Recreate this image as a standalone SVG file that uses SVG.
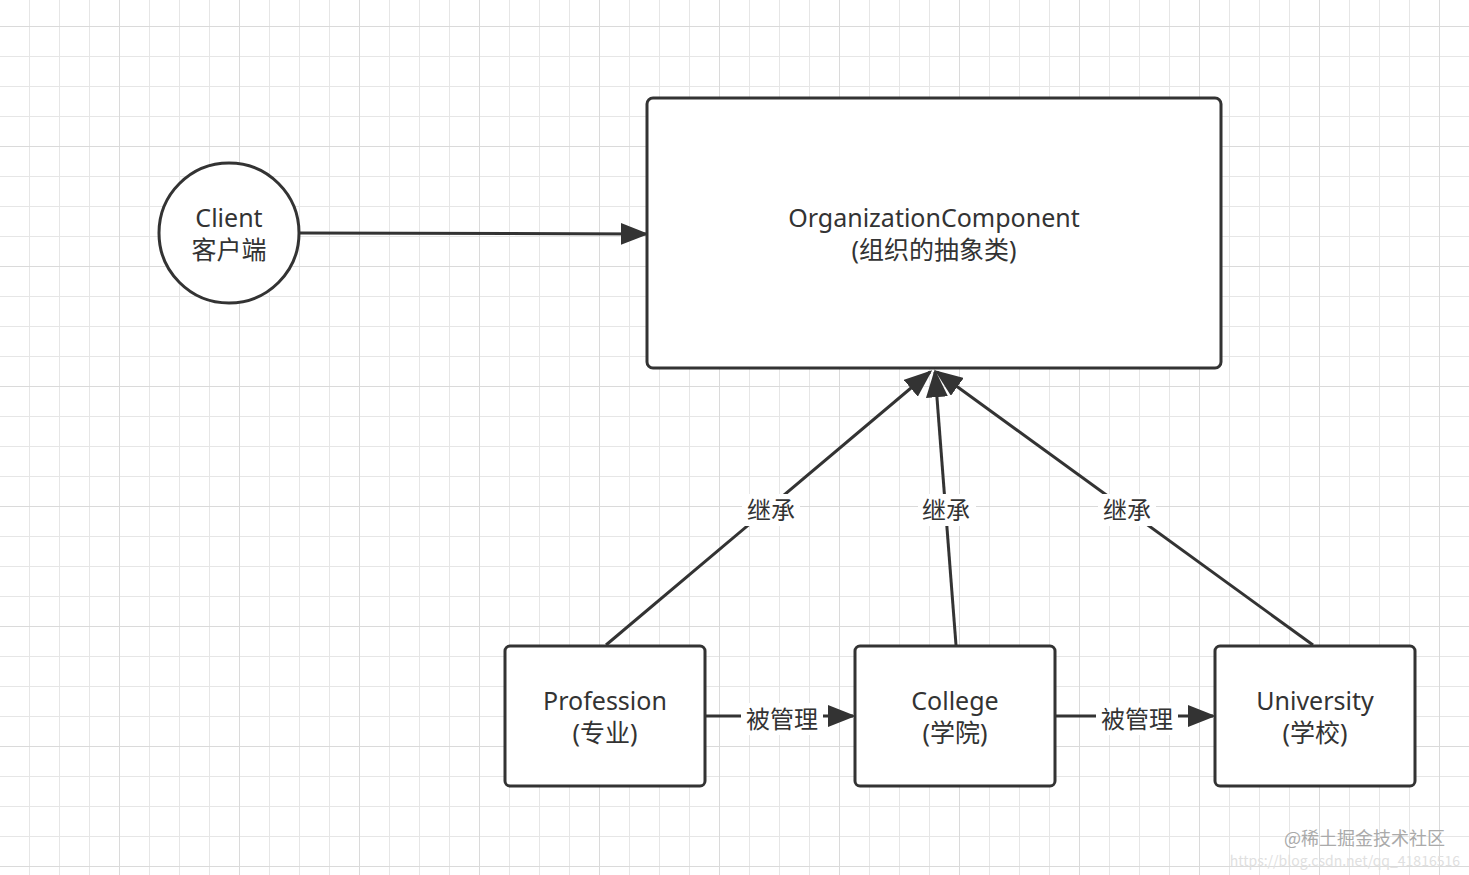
<svg xmlns="http://www.w3.org/2000/svg" width="1469" height="875" viewBox="0 0 1469 875">
<defs>
<pattern id="g" x="0" y="27" width="30" height="30" patternUnits="userSpaceOnUse"><path d="M30 0V30M0 30H30" fill="none" stroke="#e6e6e6" stroke-width="2"/></pattern>
<pattern id="G" x="0" y="27" width="120" height="120" patternUnits="userSpaceOnUse"><path d="M120 0V120M0 120H120" fill="none" stroke="#dadada" stroke-width="2"/></pattern>
<marker id="b" viewBox="0 0 10 10" refX="9" refY="5" markerWidth="28" markerHeight="22" markerUnits="userSpaceOnUse" orient="auto" preserveAspectRatio="none"><path d="M0 0L10 5L0 10z" fill="#333"/></marker>
</defs>
<style>
.n{fill:#fff;stroke:#333;stroke-width:3}
.t{font-family:"Noto Sans","Noto Sans CJK SC",sans-serif;font-size:25px;fill:#333;text-anchor:middle}
.l{font-family:"Noto Sans CJK SC",sans-serif;font-size:24px;fill:#333;text-anchor:middle}
.c{fill:none;stroke:#333;stroke-width:3;marker-end:url(#b)}
.w{font-family:"Noto Sans CJK SC",sans-serif}
</style>
<rect width="1469" height="875" fill="#fff"/>
<rect width="1469" height="875" fill="url(#g)"/>
<rect width="1469" height="875" fill="url(#G)"/>
<g id="connectors">
<path class="c" d="M300 233L646 234"/>
<path class="c" d="M606 645L930 372"/>
<path class="c" d="M956 645L935 372"/>
<path class="c" d="M1313 645L937 372"/>
<path class="c" d="M706 716L853 716"/>
<path class="c" d="M1056 716L1213 716"/>
<rect x="742" y="494" width="58" height="32" fill="#fff"/><text class="l" x="771" y="519">继承</text>
<rect x="918" y="494" width="58" height="32" fill="#fff"/><text class="l" x="946" y="519">继承</text>
<rect x="1098" y="494" width="58" height="32" fill="#fff"/><text class="l" x="1127" y="519">继承</text>
<rect x="741" y="703" width="82" height="32" fill="#fff"/><text class="l" x="782" y="728">被管理</text>
<rect x="1096" y="703" width="82" height="32" fill="#fff"/><text class="l" x="1137" y="728">被管理</text>
</g>
<g id="client"><circle class="n" cx="229" cy="233" r="70"/><text class="t" x="229" y="227">Client</text><text class="t" x="229" y="259">客户端</text></g>
<g id="org"><rect class="n" x="647" y="98" width="574" height="270" rx="6"/><text class="t" x="934" y="227">OrganizationComponent</text><text class="t" x="934" y="259">(组织的抽象类)</text></g>
<g id="profession"><rect class="n" x="505" y="646" width="200" height="140" rx="5"/><text class="t" x="605" y="710">Profession</text><text class="t" x="605" y="742">(专业)</text></g>
<g id="college"><rect class="n" x="855" y="646" width="200" height="140" rx="5"/><text class="t" x="955" y="710">College</text><text class="t" x="955" y="742">(学院)</text></g>
<g id="university"><rect class="n" x="1215" y="646" width="200" height="140" rx="5"/><text class="t" x="1315" y="710">University</text><text class="t" x="1315" y="742">(学校)</text></g>
<text class="w" x="1445" y="845" font-size="18" text-anchor="end" fill="#aaa">@稀土掘金技术社区</text>
<text class="w" x="1460" y="866" font-size="14" text-anchor="end" fill="#e0e0e0">https://blog.csdn.net/qq_41816516</text>
</svg>
